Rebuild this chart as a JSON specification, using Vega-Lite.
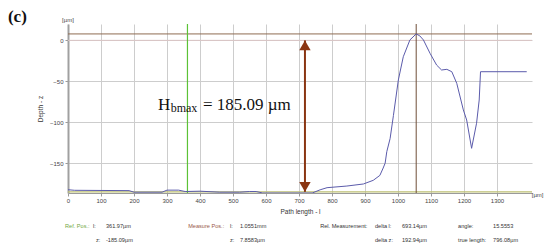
{
  "$schema": "https://vega.github.io/schema/vega-lite/v6.json",
  "width": 464,
  "height": 169,
  "autosize": {"type": "none"},
  "padding": {"left": 68, "top": 24, "right": 18, "bottom": 57},
  "background": "white",
  "config": {"view": {"stroke": null}},
  "datasets": {
    "profile": [
      {"l": 0, "z": -182.5}, {"l": 20, "z": -183.2}, {"l": 100, "z": -183.4}, {"l": 185, "z": -183.6},
      {"l": 200, "z": -185.5}, {"l": 285, "z": -185.5}, {"l": 300, "z": -183}, {"l": 335, "z": -183},
      {"l": 355, "z": -184.7}, {"l": 400, "z": -184.3}, {"l": 460, "z": -185.5}, {"l": 520, "z": -185.5},
      {"l": 550, "z": -184.7}, {"l": 570, "z": -184.7}, {"l": 590, "z": -186.5}, {"l": 740, "z": -186.5},
      {"l": 764, "z": -182.6}, {"l": 785, "z": -180}, {"l": 845, "z": -178}, {"l": 895, "z": -175.5},
      {"l": 925, "z": -171}, {"l": 945, "z": -165}, {"l": 955, "z": -156}, {"l": 961, "z": -150},
      {"l": 966, "z": -136}, {"l": 976, "z": -120}, {"l": 986, "z": -92}, {"l": 1001, "z": -48.4},
      {"l": 1016, "z": -20}, {"l": 1036, "z": 0.5}, {"l": 1055, "z": 7.86}, {"l": 1066, "z": 5.5},
      {"l": 1077, "z": 0.5}, {"l": 1097, "z": -15.8}, {"l": 1117, "z": -30.2}, {"l": 1132, "z": -36.2},
      {"l": 1148, "z": -35.4}, {"l": 1163, "z": -38.3}, {"l": 1178, "z": -52.5}, {"l": 1198, "z": -85},
      {"l": 1208, "z": -97.3}, {"l": 1223, "z": -131.9}, {"l": 1238, "z": -101.3}, {"l": 1246, "z": -72.9},
      {"l": 1250, "z": -38.3}, {"l": 1390, "z": -38.3}
    ],
    "info": [
      {"l": -9, "z": -226.8, "t": "Ref. Pos.:", "kind": "ref"},
      {"l": 76, "z": -226.8, "t": "l:", "kind": "n"},
      {"l": 115, "z": -226.8, "t": "361.97µm", "kind": "n"},
      {"l": 85, "z": -243.9, "t": "z:", "kind": "n"},
      {"l": 115, "z": -243.9, "t": "-185.09µm", "kind": "n"},
      {"l": 364, "z": -226.8, "t": "Measure Pos.:", "kind": "meas"},
      {"l": 491, "z": -226.8, "t": "l:", "kind": "n"},
      {"l": 521, "z": -226.8, "t": "1.0551mm", "kind": "n"},
      {"l": 491, "z": -243.9, "t": "z:", "kind": "n"},
      {"l": 521, "z": -243.9, "t": "7.8583µm", "kind": "n"},
      {"l": 764, "z": -226.8, "t": "Rel. Measurement:", "kind": "n"},
      {"l": 930, "z": -226.8, "t": "delta l:", "kind": "n"},
      {"l": 1012, "z": -226.8, "t": "693.14µm", "kind": "n"},
      {"l": 930, "z": -243.9, "t": "delta z:", "kind": "n"},
      {"l": 1012, "z": -243.9, "t": "192.94µm", "kind": "n"},
      {"l": 1182, "z": -226.8, "t": "angle:", "kind": "n"},
      {"l": 1288, "z": -226.8, "t": "15.5553", "kind": "n"},
      {"l": 1182, "z": -243.9, "t": "true length:", "kind": "n"},
      {"l": 1288, "z": -243.9, "t": "796.08µm", "kind": "n"}
    ]
  },
  "encoding": {
    "x": {
      "field": "l", "type": "quantitative",
      "scale": {"domain": [0, 1406], "nice": false, "zero": false},
      "axis": {
        "values": [0, 100, 200, 300, 400, 500, 600, 700, 800, 900, 1000, 1100, 1200, 1300],
        "format": "d",
        "title": "Path length - l",
        "grid": true, "gridColor": "#cdcdcd", "gridWidth": 1,
        "domainColor": "#9a9a9a", "domainWidth": 1,
        "tickColor": "#9a9a9a", "tickSize": 3,
        "labelFont": "Liberation Sans", "labelFontSize": 6, "labelColor": "#444444", "labelPadding": 1,
        "labelFlush": false,
        "titleFont": "Liberation Sans", "titleFontSize": 6.5, "titleFontWeight": "normal", "titleColor": "#333333",
        "titlePadding": 5
      }
    },
    "y": {
      "field": "z", "type": "quantitative",
      "scale": {"domain": [-186.5, 20], "nice": false, "zero": false},
      "axis": {
        "values": [0, -50, -100, -150],
        "format": "d",
        "title": "Depth - z",
        "grid": true, "gridColor": "#cdcdcd", "gridWidth": 1,
        "domainColor": "#a0a0a0", "domainWidth": 2,
        "tickColor": "#9a9a9a", "tickSize": 3,
        "labelFont": "Liberation Sans", "labelFontSize": 6, "labelColor": "#444444", "labelPadding": 2,
        "titleFont": "Liberation Sans", "titleFontSize": 6.5, "titleFontWeight": "normal", "titleColor": "#333333",
        "titlePadding": 6
      }
    }
  },
  "layer": [
    {
      "data": {"values": [{"z": 0}]},
      "mark": {"type": "rule", "color": "#dcc6c6", "strokeWidth": 1},
      "encoding": {"x": null, "y": {"field": "z", "type": "quantitative"}}
    },
    {
      "data": {"values": [{"z": 7.86}]},
      "mark": {"type": "rule", "color": "#8f6c52", "strokeWidth": 1},
      "encoding": {"x": null, "y": {"field": "z", "type": "quantitative"}}
    },
    {
      "data": {"values": [{"z": -185.09}]},
      "mark": {"type": "rule", "color": "#bcbf72", "strokeWidth": 1.2},
      "encoding": {"x": null, "y": {"field": "z", "type": "quantitative"}}
    },
    {
      "data": {"values": [{"l": 361.97}]},
      "mark": {"type": "rule", "color": "#5cc236", "strokeWidth": 1.2},
      "encoding": {"y": null, "x": {"field": "l", "type": "quantitative"}}
    },
    {
      "data": {"values": [{"l": 1055.1}]},
      "mark": {"type": "rule", "color": "#6e4e38", "strokeWidth": 1},
      "encoding": {"y": null, "x": {"field": "l", "type": "quantitative"}}
    },
    {
      "data": {"name": "profile"},
      "mark": {"type": "line", "color": "#5b5bab", "strokeWidth": 1, "clip": true}
    },
    {
      "data": {"values": [{"l": 718, "z": 0, "z2": -185.09}]},
      "mark": {"type": "rule", "color": "#8a3512", "strokeWidth": 2},
      "encoding": {"y2": {"field": "z2"}}
    },
    {
      "data": {"values": [{"l": 718, "z": 0}]},
      "mark": {"type": "point", "shape": "triangle-up", "filled": true, "color": "#8a3512", "size": 130, "opacity": 1, "yOffset": 5}
    },
    {
      "data": {"values": [{"l": 718, "z": -185.09}]},
      "mark": {"type": "point", "shape": "triangle-down", "filled": true, "color": "#8a3512", "size": 130, "opacity": 1, "yOffset": -5}
    },
    {
      "data": {"values": [{"l": 273, "z": -85.1, "t": "H"}]},
      "mark": {"type": "text", "font": "Liberation Serif", "fontSize": 17, "align": "left", "baseline": "alphabetic", "color": "#111111"},
      "encoding": {"text": {"field": "t"}}
    },
    {
      "data": {"values": [{"l": 311, "z": -87.5, "t": "bmax"}]},
      "mark": {"type": "text", "font": "Liberation Serif", "fontSize": 12, "align": "left", "baseline": "alphabetic", "color": "#111111"},
      "encoding": {"text": {"field": "t"}}
    },
    {
      "data": {"values": [{"l": 409, "z": -85.1, "t": "= 185.09 µm"}]},
      "mark": {"type": "text", "font": "Liberation Serif", "fontSize": 17, "align": "left", "baseline": "alphabetic", "color": "#111111"},
      "encoding": {"text": {"field": "t"}}
    },
    {
      "data": {"values": [{"l": -182, "z": 28, "t": "(c)"}]},
      "mark": {"type": "text", "font": "Liberation Serif", "fontSize": 17, "fontWeight": "bold", "align": "left", "baseline": "middle", "color": "#111111"},
      "encoding": {"text": {"field": "t"}}
    },
    {
      "data": {"values": [{"l": 0, "z": 24.9, "t": "[µm]"}, {"l": 1423, "z": -188.9, "t": "[µm]"}]},
      "mark": {"type": "text", "font": "Liberation Sans", "fontSize": 6, "align": "center", "baseline": "middle", "color": "#444444"},
      "encoding": {"text": {"field": "t"}}
    },
    {
      "data": {"name": "info"},
      "mark": {"type": "text", "font": "Liberation Sans", "fontSize": 5.6, "align": "left", "baseline": "middle"},
      "encoding": {
        "text": {"field": "t"},
        "color": {
          "field": "kind", "type": "nominal",
          "scale": {"domain": ["ref", "meas", "n"], "range": ["#72a844", "#9a5a48", "#333333"]},
          "legend": null
        }
      }
    }
  ]
}
